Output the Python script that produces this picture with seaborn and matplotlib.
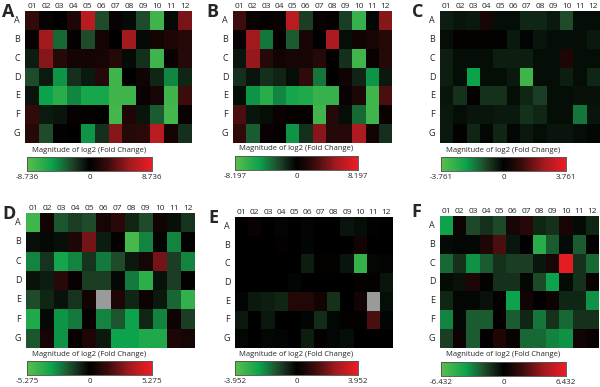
import numpy as np
import pandas as pd
import seaborn as sns
import matplotlib.pyplot as plt
from matplotlib.colors import LinearSegmentedColormap

rows = ['A', 'B', 'C', 'D', 'E', 'F', 'G']
cols = ['01', '02', '03', '04', '05', '06', '07', '08', '09', '10', '11', '12']
nan = np.nan

# log2 fold change values (rows A..G, columns 01..12)
vals_a = [
    [2.2, 0.4, 0.0, 1.3, 6.6, -2.6, 0.4, -0.4, -2.6, -7.4, -0.4, 4.4],
    [0.4, 5.7, -3.5, 0.2, -2.6, 0.9, 0.0, 5.7, -0.4, 0.9, 1.3, 1.7],
    [-1.0, 4.8, 1.7, 0.9, 0.9, 1.0, 1.7, -0.4, -1.7, -7.4, 0.4, 1.7],
    [-2.6, -0.9, -4.8, -1.7, -0.9, 1.7, -7.4, 0.0, 0.7, -1.3, -4.4, -1.3],
    [-0.7, -5.2, -6.5, -4.4, -5.7, -5.7, -7.4, -7.4, 0.4, 1.0, -7.4, 2.6],
    [2.2, -0.9, -0.7, 0.3, 0.2, 0.0, -7.7, 1.3, -0.7, -3.1, -7.7, 0.4],
    [1.7, -2.6, 0.2, 0.0, -4.8, -1.7, 4.8, 1.7, 1.9, 6.6, 0.9, -1.7],
]
vals_b = [
    [2.5, 0.4, 0.2, 0.4, 6.1, -2.0, 0.4, 0.2, -2.0, -6.6, -0.2, 4.5],
    [0.4, 5.3, -3.7, 0.2, -2.9, 1.0, 0.0, 5.7, -0.4, 0.7, 1.0, 1.6],
    [-0.7, 4.9, 1.6, 0.8, 1.0, 1.0, 1.6, 0.0, -1.6, -7.0, 0.4, 1.6],
    [-1.6, -0.7, -1.6, -1.2, -0.4, 2.0, -3.7, 0.0, 0.7, -1.2, -4.5, -0.8],
    [-0.4, -4.5, -6.1, -4.1, -5.3, -5.7, -6.6, -6.6, 0.4, 1.2, -7.0, 2.9],
    [2.9, -0.7, -0.4, 0.4, 0.2, 0.2, -7.0, 1.6, -0.4, -3.3, -7.0, 0.4],
    [2.0, -2.9, 0.4, 0.2, -4.5, -1.6, 4.5, 1.6, 1.6, 5.7, 0.8, -1.6],
]
vals_c = [
    [-0.45, -0.3, -0.38, 0.45, -0.19, -0.19, -0.56, -0.56, -0.38, -1.13, -0.19, -0.19],
    [-0.19, 0.11, 0.08, 0.08, 0.08, -0.38, -0.08, -0.3, -0.19, -0.19, -0.19, -0.38],
    [-0.45, -0.19, -0.19, -0.19, -0.45, -0.45, -0.45, -0.19, -0.19, 0.56, -0.19, -0.19],
    [-0.45, -0.19, -2.26, -0.19, -0.19, -0.38, -3.2, -0.19, -0.19, -0.45, -0.19, -0.56],
    [-0.3, -0.75, 0.08, -0.75, -0.75, -0.19, -0.56, -0.94, -0.19, -0.19, -0.26, -0.26],
    [-0.38, -0.19, -0.3, -0.3, -0.38, -0.38, -0.75, -0.56, -0.19, -0.19, -1.69, -0.3],
    [-0.38, 0.08, -0.56, -0.11, -0.56, -0.11, -0.38, -0.19, -0.3, -0.3, -0.19, -0.11],
]
vals_d = [
    [-4.5, 0.5, -1.8, -1.3, -1.6, 0.6, 1.1, -0.8, -1.6, 0.5, -0.3, -1.1],
    [-0.3, -0.2, -0.3, 0.8, 2.6, -0.6, 0.1, -4.7, -2.6, -0.1, -2.6, 0.1],
    [-2.6, -1.1, -3.4, -2.6, -1.1, -2.4, -1.6, -0.5, 0.6, 2.6, -1.3, -2.6],
    [-0.4, -0.6, 1.1, 0.2, -1.3, -1.3, -0.2, -2.4, -4.0, -0.4, -1.3, 0.1],
    [-1.6, -0.8, -0.4, -1.1, 0.5, nan, 0.8, -0.8, 0.3, -0.5, -2.1, -4.2],
    [-3.7, -0.2, -2.9, -2.4, 0.2, -2.6, -1.8, -3.2, -0.8, -2.6, 0.4, -1.3],
    [-1.8, 0.6, -2.9, 0.2, 0.8, -0.5, -3.2, -3.2, -3.7, -3.7, 0.8, 0.6],
]
vals_e = [
    [0.0, 0.2, 0.0, -0.08, 0.0, -0.08, 0.0, 0.0, -0.32, -0.2, 0.08, 0.0],
    [0.0, 0.0, 0.0, 0.08, 0.0, -0.08, 0.0, 0.0, 0.0, 0.4, 0.0, 0.0],
    [0.0, 0.0, 0.0, 0.0, 0.0, -0.47, 0.08, 0.08, -0.32, -3.16, -0.12, -0.08],
    [0.0, 0.0, 0.0, 0.0, -0.08, 0.0, 0.0, 0.0, 0.0, 0.08, 0.08, -0.32],
    [-0.08, -0.4, -0.47, -0.59, 0.71, 0.71, 0.4, -0.79, 0.0, 0.4, nan, -0.2],
    [-0.4, 0.0, -0.4, 0.0, 0.0, -0.08, -0.71, -0.12, 0.12, 0.08, 1.38, -0.08],
    [-0.12, 0.0, -0.12, -0.08, 0.0, -0.47, 0.08, -0.12, -0.2, 0.0, 0.0, 0.0],
]
vals_f = [
    [-3.9, 0.5, -1.9, -1.3, -1.9, 0.8, 1.3, -1.0, -1.3, 0.8, -0.3, -1.0],
    [-0.3, -0.2, -0.2, 1.0, 2.3, -0.6, 0.1, -4.8, -2.3, -0.3, -2.3, 0.1],
    [-2.6, -1.3, -3.5, -2.3, -1.3, -1.6, -1.6, -0.6, 0.8, 6.1, -1.3, -2.6],
    [-0.3, -0.5, 1.0, 0.2, -1.3, -1.3, -0.2, -1.9, -3.9, -0.3, -1.3, 0.3],
    [-1.0, -0.2, -0.2, -0.5, 0.2, -3.9, 0.6, 0.1, 0.5, -1.0, -1.0, -3.5],
    [-3.2, -0.2, -2.3, -2.3, 0.1, -2.3, -1.0, -2.9, -1.3, -2.6, -1.3, -1.3],
    [-1.6, 0.5, -2.3, 0.1, 1.0, 0.3, -2.6, -2.6, -3.2, -3.5, 0.6, 0.3],
]

panel_names = ['A', 'B', 'C', 'D', 'E', 'F']
panel_vals = [vals_a, vals_b, vals_c, vals_d, vals_e, vals_f]
panel_max = [8.736, 8.197, 3.761, 5.275, 3.952, 6.432]

W, H = 600, 387

def box(x0, y0, x1, y1):
    # pixel box -> figure fraction rect
    return [x0 / W, 1 - y1 / H, (x1 - x0) / W, (y1 - y0) / H]

# pixel layout: heatmap box, colorbar box, panel letter position
heat_px = [(25, 11, 192, 143), (233, 11, 392, 143), (440, 11, 600, 143),
           (26, 213, 195, 348), (235, 217, 393, 348), (440, 216, 599, 348)]
cbar_px = [(27, 157, 152, 171), (235, 156, 358, 170), (441, 157, 566, 171),
           (27, 361, 152, 375), (235, 361, 358, 375), (441, 362, 566, 376)]
letter_px = [(2, 12), (206, 12), (412, 12), (2, 214), (208, 218), (411, 212)]

cmap = LinearSegmentedColormap.from_list(
    'gbr', [(0.0, '#5cbf4a'), (0.2, '#0ba24c'), (0.35, '#1f4a2a'),
            (0.5, '#000000'), (0.65, '#3a0c0c'), (0.82, '#a01a1e'),
            (1.0, '#ee1c25')])

sns.set_style('white')
plt.rcParams['font.family'] = ['Open Sans', 'DejaVu Sans']

fig = plt.figure(figsize=(6, 3.87), dpi=100)

for name, vals, vmax, hp, cp, lp in zip(panel_names, panel_vals, panel_max,
                                        heat_px, cbar_px, letter_px):
    df = pd.DataFrame(vals, index=rows, columns=cols)
    ax = fig.add_axes(box(*hp))
    cax = fig.add_axes(box(*cp))
    sns.heatmap(df, ax=ax, cmap=cmap, vmin=-vmax, vmax=vmax,
                xticklabels=cols, yticklabels=rows,
                cbar_ax=cax, cbar_kws={'orientation': 'horizontal'})
    ax.set_facecolor('#9a9a9a')
    ax.xaxis.tick_top()
    ax.tick_params(axis='x', length=0, labelsize=6, pad=1, labelrotation=0)
    ax.tick_params(axis='y', length=0, labelsize=6.5, pad=3.5, labelrotation=0)
    ax.set_xlabel('')
    ax.set_ylabel('')

    cax.set_xticks([-vmax, 0, vmax])
    cax.set_xticklabels([f'-{vmax:.3f}', '0', f'{vmax:.3f}'])
    cax.tick_params(length=0, labelsize=5.8, pad=2.5)
    for s in cax.spines.values():
        s.set_visible(True)
        s.set_linewidth(0.5)
        s.set_color('#555555')
    fig.text((cp[0] + cp[2]) / 2 / W, 1 - (cp[1] - 7) / H,
             'Magnitude of log2 (Fold Change)', ha='center', va='center',
             fontsize=5.5)

    fig.text(lp[0] / W, 1 - lp[1] / H, name, ha='left', va='center',
             fontsize=13, fontweight='bold')

fig.savefig('out.png', dpi=100)
